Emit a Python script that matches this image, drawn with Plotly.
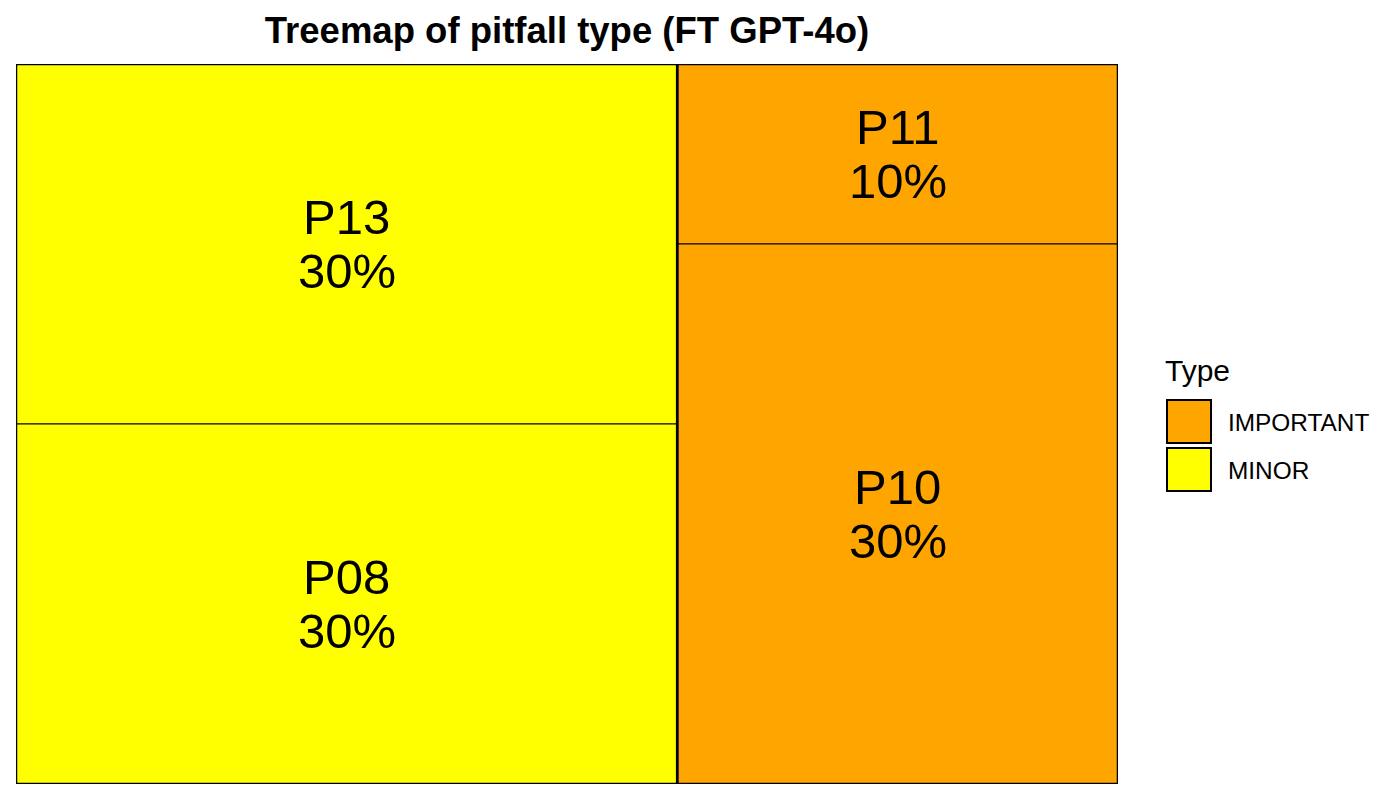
import plotly.graph_objects as go

# ---- data ----
pitfalls = ["P13", "P08", "P11", "P10"]
types = ["MINOR", "MINOR", "IMPORTANT", "IMPORTANT"]
shares = [30, 30, 10, 30]
type_order = ["MINOR", "IMPORTANT"]          # left-to-right layout order
legend_order = ["IMPORTANT", "MINOR"]
type_colors = {"IMPORTANT": "#FFA500", "MINOR": "#FFFF00"}
title_text = "Treemap of pitfall type (FT GPT-4o)"

FONT = "Liberation Sans, Arial, sans-serif"

# ---- simple slice-and-dice treemap layout computed from the values ----
total = sum(shares)
tiles = []   # (x0, x1, y0, y1, name, type, share)
groups = []
x_cursor = 0.0
for t in type_order:
    idx = [i for i, tt in enumerate(types) if tt == t]
    gsum = sum(shares[i] for i in idx)
    gw = gsum / total
    x0, x1 = x_cursor, x_cursor + gw
    groups.append((x0, x1, 0.0, 1.0))
    y_top = 1.0
    for i in idx:
        h = shares[i] / gsum
        tiles.append((x0, x1, y_top - h, y_top, pitfalls[i], types[i], shares[i]))
        y_top -= h
    x_cursor = x1

fig = go.Figure()
for (x0, x1, y0, y1, name, t, s) in tiles:
    fig.add_trace(go.Scatter(
        x=[x0, x1, x1, x0, x0], y=[y0, y0, y1, y1, y0],
        mode="lines", fill="toself", fillcolor=type_colors[t],
        line=dict(color="black", width=1), showlegend=False,
        hoverinfo="text", text=f"{name}: {s}%",
    ))
# group borders (thicker)
for (x0, x1, y0, y1) in groups:
    fig.add_trace(go.Scatter(
        x=[x0, x1, x1, x0, x0], y=[y0, y0, y1, y1, y0],
        mode="lines", line=dict(color="black", width=2.5),
        showlegend=False, hoverinfo="skip",
    ))

annotations = []
for (x0, x1, y0, y1, name, t, s) in tiles:
    cx, cy = (x0 + x1) / 2, (y0 + y1) / 2
    annotations.append(dict(x=cx, y=cy, xref="x", yref="y", text=name,
                            showarrow=False, yshift=27,
                            font=dict(family=FONT, size=49, color="black")))
    annotations.append(dict(x=cx, y=cy, xref="x", yref="y", text=f"{s}%",
                            showarrow=False, yshift=-27,
                            font=dict(family=FONT, size=49, color="black")))

# ---- manual legend (paper coords; plot area = 16..1118 x 64..784 px) ----
PL, PW, PT, PH = 16, 1102, 64, 720
def px_x(p):
    return (p - PL) / PW
def px_y(p):
    return 1 - (p - PT) / PH

shapes = []
annotations.append(dict(x=px_x(1163), y=px_y(370), xref="paper", yref="paper",
                        text="Type", showarrow=False, xanchor="left", yanchor="middle",
                        font=dict(family=FONT, size=30, color="black")))
for k, t in enumerate(legend_order):
    top = 400 + k * 48
    shapes.append(dict(type="rect", xref="paper", yref="paper",
                       x0=px_x(1167), x1=px_x(1211), y0=px_y(top), y1=px_y(top + 43),
                       fillcolor=type_colors[t], line=dict(color="black", width=2)))
    annotations.append(dict(x=px_x(1226), y=px_y(top + 22), xref="paper", yref="paper",
                            text=t, showarrow=False, xanchor="left", yanchor="middle",
                            font=dict(family=FONT, size=24.4, color="black")))

fig.update_layout(
    width=1400, height=800,
    margin=dict(l=16, r=282, t=64, b=16, autoexpand=False),
    paper_bgcolor="white", plot_bgcolor="white",
    title=dict(text=f"<b>{title_text}</b>", x=0.5, xref="paper", xanchor="center",
               y=1 - 30 / 800, yref="container", yanchor="middle",
               font=dict(family=FONT, size=36.5, color="black")),
    xaxis=dict(range=[0, 1], visible=False, showgrid=False, zeroline=False, fixedrange=True),
    yaxis=dict(range=[0, 1], visible=False, showgrid=False, zeroline=False, fixedrange=True),
    showlegend=False,
    annotations=annotations,
    shapes=shapes,
)

fig.write_html("out.html")
